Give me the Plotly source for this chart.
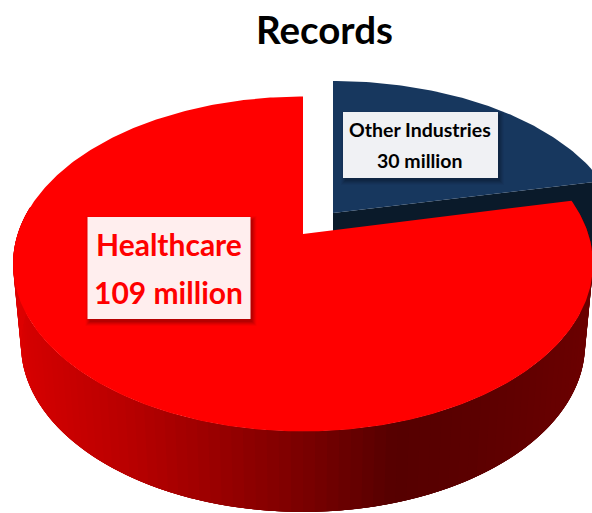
import numpy as np
import plotly.graph_objects as go

# Slice data
categories = ["Healthcare", "Other Industries"]
records_million = [109, 30]
chart_title = "Records"

WIDTH, HEIGHT = 592, 513
total = sum(records_million)
other_sweep = 2 * np.pi * records_million[1] / total

# Perspective view of the disc: returns screen positions for a rim at polar angle
# theta (clockwise from the far side) and radius r.
TILT = 0.179


def project(theta, r, apex, half_w=285.3, half_d=162.1):
    x_disc = r * np.sin(theta)
    y_disc = r * np.cos(theta)
    scale = 1 + TILT * y_disc
    return apex[0] + half_w * x_disc / scale, apex[1] - half_d * y_disc / scale


RED_TOP = (303, 234)
RED_BOTTOM = (303, 314.5)
BLUE_TOP = (333, 213)
BLUE_BOTTOM = (333, 294)

# Side-wall shade as a function of screen x
shade_x = [12, 33, 133, 233, 300, 400, 480, 592]
shade_r = [225, 212, 185, 150, 126, 86, 92, 108]


def wall_colour(x):
    return f"rgb({int(np.interp(x, shade_x, shade_r))},0,0)"


def polygon(xs, ys, colour, edge=0.0):
    return go.Scatter(
        x=list(xs), y=list(ys), mode="lines", fill="toself", fillcolor=colour,
        line=dict(color=colour, width=edge), hoverinfo="skip", showlegend=False,
    )


fig = go.Figure()

# Other Industries: cut face and outer wall, then the top face
thetas_other = np.linspace(0, other_sweep, 90)
tx, ty = project(other_sweep, 1, BLUE_TOP, half_d=155.6)
bx, by = project(other_sweep, 1, BLUE_BOTTOM, half_d=155.6)
fig.add_trace(polygon(
    [BLUE_TOP[0], tx, bx, BLUE_BOTTOM[0]],
    [BLUE_TOP[1], ty, by, BLUE_BOTTOM[1]],
    "#0a1a2a",
))
ox, oy = project(thetas_other, 1, BLUE_TOP, half_d=155.6)
fig.add_trace(polygon(
    np.r_[BLUE_TOP[0], ox], np.r_[BLUE_TOP[1], oy], "#17375e",
))

# Healthcare: outer wall in overlapping shaded strips, each painted over the last
wall_end = np.radians(280)
starts = np.radians(np.arange(80, 280, 2.0))
for a in starts:
    arc = np.linspace(a, min(a + np.radians(8), wall_end), 12)
    x1, y1 = project(arc, 1, RED_TOP)
    x2, y2 = project(arc[::-1], 1, RED_BOTTOM, half_w=277.5)
    fig.add_trace(polygon(
        np.r_[x1, x2], np.r_[y1, y2], wall_colour((x1[0] + x2[-1]) / 2),
    ))

# Healthcare: top face
thetas_red = np.linspace(other_sweep, 2 * np.pi, 400)
hx, hy = project(thetas_red, 1, RED_TOP)
fig.add_trace(polygon(np.r_[RED_TOP[0], hx], np.r_[RED_TOP[1], hy], "#ff0000"))


def label_box(x0, y0, x1, y1, fill, shadow):
    # Layered translucent rectangles give a soft drop shadow
    shapes = []
    for grow, alpha in [(4, 0.06), (3, 0.09), (2, 0.12), (1, 0.16), (0, 0.20)]:
        shapes.append(dict(
            type="rect", xref="x", yref="y", layer="above", line_width=0,
            x0=x0 + 2 - grow, x1=x1 + 2 + grow, y0=y0 + 3 - grow, y1=y1 + 3 + grow,
            fillcolor=f"rgba({shadow},{alpha})",
        ))
    shapes.append(dict(
        type="rect", xref="x", yref="y", layer="above", line_width=0,
        x0=x0, x1=x1, y0=y0, y1=y1, fillcolor=fill,
    ))
    return shapes


shapes = (
    label_box(87.5, 217, 250.5, 319, "#ffeeee", "110,0,0")
    + label_box(343, 112, 498, 178, "#f0f1f4", "10,25,45")
)


def text_line(x, y, text, size, colour):
    return dict(
        x=x, y=y, xref="x", yref="y", showarrow=False, text=text,
        font=dict(family="Lato", size=size, color=colour, weight=700),
    )


annotations = [
    text_line(168.5, 244, categories[0], 30, "#ff0000"),
    text_line(168.5, 292, f"{records_million[0]} million", 30, "#ff0000"),
    text_line(420, 129, categories[1], 19.5, "#000000"),
    text_line(420, 160, f"{records_million[1]} million", 19.5, "#000000"),
    text_line(324, 29, chart_title, 38.5, "#000000"),
]

fig.update_layout(
    width=WIDTH, height=HEIGHT, margin=dict(l=0, r=0, t=0, b=0),
    paper_bgcolor="white", plot_bgcolor="white", showlegend=False,
    xaxis=dict(range=[0, WIDTH], visible=False, fixedrange=True),
    yaxis=dict(range=[HEIGHT, 0], visible=False, fixedrange=True),
    shapes=shapes, annotations=annotations,
)

fig.write_html("out.html")
